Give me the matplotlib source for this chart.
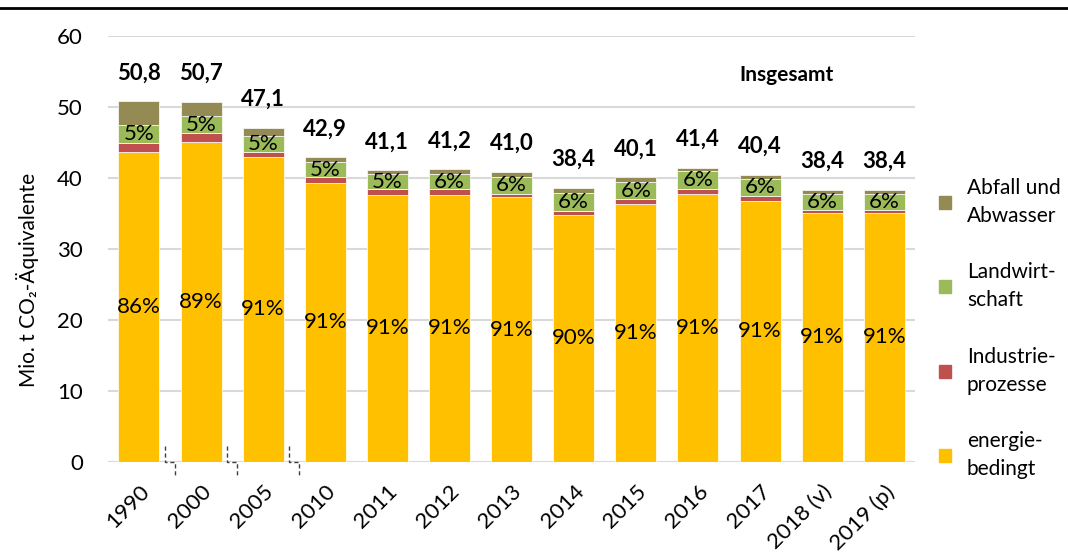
import matplotlib
matplotlib.use("Agg")
import matplotlib.pyplot as plt
from matplotlib.patches import Patch
from matplotlib.lines import Line2D

plt.rcParams['font.family'] = ['Lato', 'DejaVu Sans']

# Daten (Mio. t CO2-Äquivalente)
jahre = ['1990', '2000', '2005', '2010', '2011', '2012', '2013', '2014',
         '2015', '2016', '2017', '2018 (v)', '2019 (p)']
energie = [43.6, 45.1, 43.0, 39.3, 37.6, 37.6, 37.3, 34.8, 36.3, 37.8, 36.8, 35.1, 35.1]
industrie = [1.3, 1.2, 0.7, 0.8, 0.8, 0.8, 0.5, 0.5, 0.7, 0.6, 0.7, 0.4, 0.4]
landwirtschaft = [2.6, 2.4, 2.2, 2.1, 2.1, 2.1, 2.3, 2.6, 2.4, 2.6, 2.4, 2.3, 2.3]
abfall = [3.3, 2.0, 1.2, 0.7, 0.6, 0.7, 0.8, 0.7, 0.7, 0.4, 0.5, 0.5, 0.5]
gesamt = [50.8, 50.7, 47.1, 42.9, 41.1, 41.2, 41.0, 38.4, 40.1, 41.4, 40.4, 38.4, 38.4]
anteil_energie = [86, 89, 91, 91, 91, 91, 91, 90, 91, 91, 91, 91, 91]
anteil_landw = [5, 5, 5, 5, 5, 6, 6, 6, 6, 6, 6, 6, 6]
bruch_nach = [0, 1, 2]  # Achsenbruch zwischen diesen und den folgenden Balken

farben = {'energie': '#FFC000', 'industrie': '#C0504D',
          'landw': '#9BBB59', 'abfall': '#948A54'}

fig = plt.figure(figsize=(10.68, 5.52), dpi=100)
ax = fig.add_axes([0.101, 0.163, 0.756, 0.772])

x = list(range(len(jahre)))
b = 0.66
unten = [0] * len(x)
for werte, key in [(energie, 'energie'), (industrie, 'industrie'),
                   (landwirtschaft, 'landw'), (abfall, 'abfall')]:
    ax.bar(x, werte, b, bottom=unten, color=farben[key], edgecolor='white',
           linewidth=0.5, zorder=3)
    unten = [u + w for u, w in zip(unten, werte)]

# Beschriftungen
for i in x:
    ax.text(i, energie[i] / 2, f'{anteil_energie[i]}%', ha='center', va='center',
            fontsize=16, zorder=4)
    y_l = energie[i] + industrie[i] + landwirtschaft[i] / 2
    ax.text(i, y_l, f'{anteil_landw[i]}%', ha='center', va='center',
            fontsize=16, zorder=4)
    ax.text(i, unten[i] + 4.0, f'{gesamt[i]:.1f}'.replace('.', ','), ha='center',
            va='center', fontsize=16, fontweight='bold', zorder=4)

ax.text(10.42, 54.5, 'Insgesamt', ha='center', va='center', fontsize=15,
        fontweight='bold')

# Achsenbruch-Markierungen
for i in bruch_nach:
    xm = i + 0.5
    d = 0.08
    ax.plot([xm - d, xm - d, xm + d, xm + d], [2.2, 0, 0, -2.1], ls=(0, (3, 2)),
            color='#404040', lw=1, clip_on=False, zorder=5)

ax.set_xlim(-0.5, len(jahre) - 0.5)
ax.set_ylim(0, 60)
ax.set_yticks(range(0, 61, 10))
ax.set_xticks(x)
ax.set_xticklabels(jahre, rotation=45, ha='right', rotation_mode='anchor', fontsize=16)
ax.tick_params(axis='both', length=0, labelsize=16)
ax.tick_params(axis='y', pad=18)
ax.tick_params(axis='x', pad=14)
ax.grid(axis='y', color='#D9D9D9', lw=1.5, zorder=0)
for s in ax.spines.values():
    s.set_visible(False)

fig.text(0.026, 1 - 280 / 552, 'Mio. t CO₂-Äquivalente', rotation=90,
         ha='center', va='center', fontsize=15)

# Legende
handles = [Patch(color=farben['abfall']), Patch(color=farben['landw']),
           Patch(color=farben['industrie']), Patch(color=farben['energie'])]
labels = ['Abfall und\nAbwasser', 'Landwirt-\nschaft', 'Industrie-\nprozesse',
          'energie-\nbedingt']
leg = fig.legend(handles, labels, loc='upper left', bbox_to_anchor=(0.879, 0.678),
                 frameon=False, fontsize=15, handlelength=0.6, handleheight=0.6,
                 labelspacing=1.75, handletextpad=0.75, borderaxespad=0, borderpad=0)
for t in leg.get_texts():
    t.set_linespacing(1.5)

# Linie oben
fig.add_artist(Line2D([0, 1], [1 - 8 / 552, 1 - 8 / 552], color='black', lw=2,
                      transform=fig.transFigure))

fig.savefig('out.png', dpi=100)
